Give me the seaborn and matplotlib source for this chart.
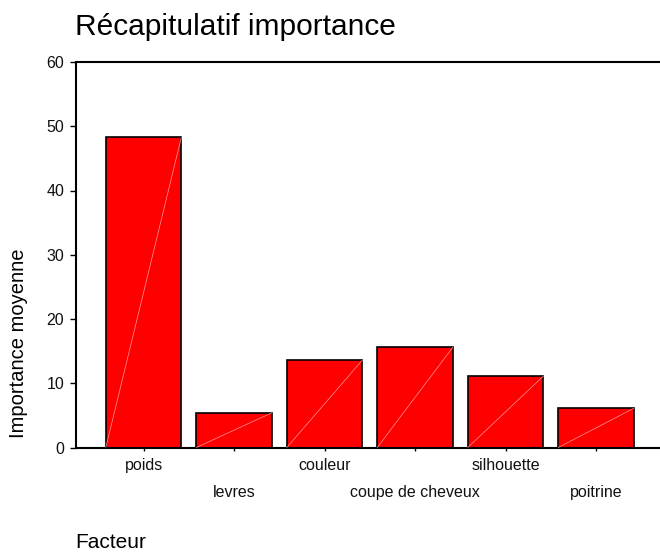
import pandas as pd
import matplotlib
matplotlib.use("Agg")
import matplotlib.pyplot as plt
import matplotlib.transforms as mtransforms
import seaborn as sns

facteurs = ["poids", "levres", "couleur", "coupe de cheveux", "silhouette", "poitrine"]
importance = [48.3, 5.4, 13.6, 15.6, 11.1, 6.1]
y_ticks = [0, 10, 20, 30, 40, 50, 60]


def plot_data():
    df = pd.DataFrame({"facteur": facteurs, "importance": importance})

    sns.set_style("white")
    plt.rcParams["font.family"] = ["Liberation Sans", "DejaVu Sans"]
    plt.rcParams["text.color"] = "black"

    fig = plt.figure(figsize=(6.6, 5.52), dpi=100)
    ax = fig.add_axes([76 / 660, 1 - 447.5 / 552, 1 - 76 / 660 + 0.01, 385.5 / 552])

    sns.barplot(x="facteur", y="importance", data=df, color="#ff0000",
                saturation=1, width=0.835, edgecolor="black", linewidth=1.2, ax=ax)

    # faint diagonal stroke SPSS draws inside each bar
    for p in ax.patches:
        x0, y0 = p.get_x(), p.get_y()
        ax.plot([x0, x0 + p.get_width()], [y0, y0 + p.get_height()],
                color="#ff9a9a", lw=0.5, zorder=3)

    ax.set_xlim(-0.747, 5.78)
    ax.set_ylim(0, 60)
    ax.set_yticks(y_ticks)
    ax.set_xticks(range(len(facteurs)))
    ax.set_xticklabels(facteurs)

    for s in ["left", "bottom", "top", "right"]:
        ax.spines[s].set_color("black")
        ax.spines[s].set_linewidth(1.5)
    ax.tick_params(axis="both", which="both", direction="out", width=1,
                   color="black", labelsize=11.5, labelcolor="#111111",
                   bottom=True, left=True)
    ax.tick_params(axis="y", length=4.5, pad=4)
    ax.tick_params(axis="x", length=2.5, pad=5)

    # stagger every other label onto a second row
    for i, lbl in enumerate(ax.get_xticklabels()):
        if i % 2 == 1:
            lbl.set_transform(mtransforms.offset_copy(lbl.get_transform(), fig=fig,
                                                      x=0, y=-27, units="dots"))

    ax.set_xlabel("")
    ax.set_ylabel("")
    fig.text(19 / 660, 1 - 343 / 552, "Importance moyenne", fontsize=14.5,
             rotation=90, ha="center", va="center")
    fig.text(75 / 660, 1 - 27 / 552, "Récapitulatif importance", fontsize=21.5,
             ha="left", va="center")
    fig.text(75 / 660, 1 - 543 / 552, "Facteur", fontsize=15, ha="left", va="center")

    fig.savefig("out.png", dpi=100)


if __name__ == "__main__":
    plot_data()
